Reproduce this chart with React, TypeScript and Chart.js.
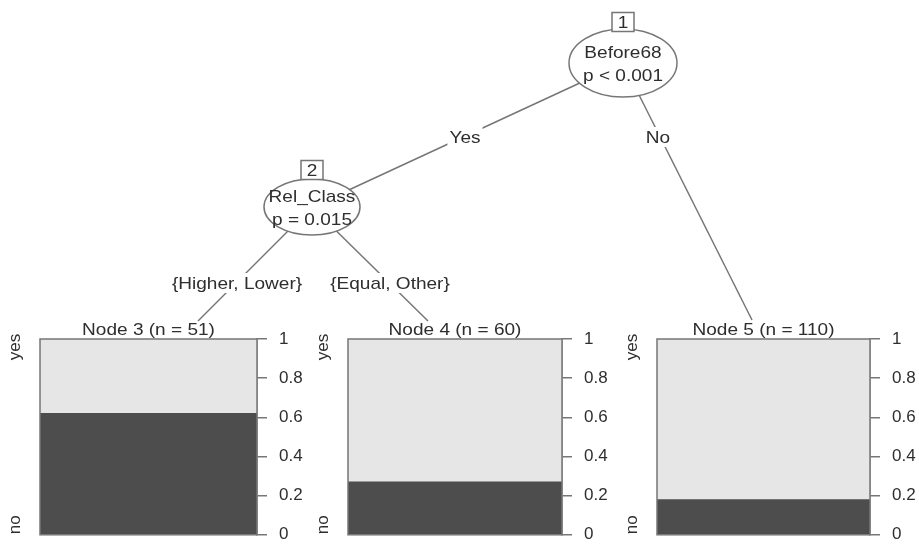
import React, { useEffect, useRef } from "react";
import { Chart, registerables } from "chart.js";

Chart.register(...registerables);

// ---------------- data ----------------
const innerNodeIds = [1, 2];
const innerNodeVars = ["Before68", "Rel_Class"];
const innerNodePValues = ["p < 0.001", "p = 0.015"];
const edgeLabels = ["Yes", "No", "{Higher, Lower}", "{Equal, Other}"];
const terminalNodeIds = [3, 4, 5];
const terminalNodeN = [51, 60, 110];
const shareDark = [0.62, 0.27, 0.18];
const shareLight = [0.38, 0.73, 0.82];
const classLabels = ["no", "yes"]; // bottom, top
const tickValues = [0, 0.2, 0.4, 0.6, 0.8, 1];
const tickLabels = ["0", "0.2", "0.4", "0.6", "0.8", "1"];

// ---------------- layout / style ----------------
const W = 919;
const H = 544;
const FONT = '"Liberation Sans", Arial, sans-serif';
const FS = 17;
const STRETCH = 1.12;
const TEXT = "#2e2e2e";
const LINE = "#767676";
const DARK = "#4d4d4d";
const LIGHT = "#e6e6e6";

const innerLayout = [
  { x: 623, y: 63, rx: 54, ry: 34, boxY: 22 },
  { x: 312, y: 207, rx: 48, ry: 28, boxY: 170 },
];
const edgeFrom = [0, 0, 1, 1];
const edgeTo = [
  { x: 312, y: 207 },
  { x: 752, y: 320 },
  { x: 198, y: 321 },
  { x: 428, y: 321 },
];
const edgeLabelPos = [
  { x: 465, y: 137 },
  { x: 658, y: 137 },
  { x: 237, y: 283 },
  { x: 390, y: 283 },
];
const panelLayout = [
  { left: 40, right: 257 },
  { left: 348, right: 562 },
  { left: 657, right: 870 },
];
const PANEL_TOP = 339;
const PANEL_BOTTOM = 537;
const CANVAS_TOP = 300;
const LEFT_SPACE = 40;
const AXIS_W = 62;
const PAD_B = 20;

function stretchedText(ctx: any, text: string, x: number, y: number) {
  ctx.save();
  ctx.translate(x, y);
  ctx.scale(STRETCH, 1);
  ctx.fillText(text, 0, 0);
  ctx.restore();
}

const treePlugin = {
  id: "treeNodes",
  afterDatasetsDraw(chart: any) {
    const { ctx } = chart;
    const px = (v: number) => chart.scales.x.getPixelForValue(v);
    const py = (v: number) => chart.scales.y.getPixelForValue(v);
    ctx.save();
    ctx.font = `${FS}px ${FONT}`;
    ctx.textAlign = "center";
    ctx.textBaseline = "middle";
    edgeLabels.forEach((lab, i) => {
      const p = edgeLabelPos[i];
      const w = ctx.measureText(lab).width * STRETCH;
      ctx.fillStyle = "#ffffff";
      ctx.fillRect(px(p.x) - w / 2 - 2, py(p.y) - 10, w + 4, 20);
      ctx.fillStyle = TEXT;
      stretchedText(ctx, lab, px(p.x), py(p.y) + 1);
    });
    innerNodeIds.forEach((id, i) => {
      const n = innerLayout[i];
      const cx = px(n.x);
      const cy = py(n.y);
      ctx.beginPath();
      ctx.ellipse(cx, cy, n.rx, n.ry, 0, 0, Math.PI * 2);
      ctx.fillStyle = "#ffffff";
      ctx.fill();
      ctx.lineWidth = 1.5;
      ctx.strokeStyle = LINE;
      ctx.stroke();
      const bw = 22;
      const bh = 19;
      const by = py(n.boxY);
      ctx.fillStyle = "#ffffff";
      ctx.fillRect(cx - bw / 2, by - bh / 2, bw, bh);
      ctx.strokeRect(cx - bw / 2, by - bh / 2, bw, bh);
      ctx.fillStyle = TEXT;
      stretchedText(ctx, String(id), cx, by + 1);
      stretchedText(ctx, innerNodeVars[i], cx, cy - 10);
      stretchedText(ctx, innerNodePValues[i], cx, cy + 13);
    });
    ctx.restore();
  },
};

function TreeCanvas() {
  const ref = useRef<HTMLCanvasElement>(null);
  useEffect(() => {
    const datasets = edgeFrom.map((fi, i) => ({
      data: [
        { x: innerLayout[fi].x, y: innerLayout[fi].y },
        { x: edgeTo[i].x, y: edgeTo[i].y },
      ],
      showLine: true,
      pointRadius: 0,
      borderColor: LINE,
      borderWidth: 1.5,
    }));
    const chart = new Chart(ref.current as HTMLCanvasElement, {
      type: "scatter",
      data: { datasets },
      options: {
        responsive: false,
        animation: false,
        events: [],
        layout: { padding: 0 },
        plugins: { legend: { display: false }, tooltip: { enabled: false } },
        scales: {
          x: { type: "linear", min: 0, max: W, display: false },
          y: { type: "linear", min: 0, max: H, reverse: true, display: false },
        },
      },
      plugins: [treePlugin],
    } as any);
    return () => chart.destroy();
  }, []);
  return (
    <canvas
      ref={ref}
      width={W}
      height={H}
      style={{ position: "absolute", left: 0, top: 0 }}
    />
  );
}

const panelPlugin = {
  id: "panelDecor",
  afterDatasetsDraw(chart: any, _args: any, opts: any) {
    const { ctx, chartArea } = chart;
    const { left, right, top, bottom } = chartArea;
    ctx.save();
    ctx.strokeStyle = LINE;
    ctx.lineWidth = 1.5;
    ctx.strokeRect(left, top, right - left, bottom - top);
    ctx.fillStyle = TEXT;
    ctx.font = `${FS}px ${FONT}`;
    ctx.textAlign = "center";
    ctx.textBaseline = "alphabetic";
    stretchedText(ctx, opts.title, (left + right) / 2, top - 4);
    const lx = left - 20;
    [
      { t: classLabels[1], y: top + 8 },
      { t: classLabels[0], y: bottom - 10 },
    ].forEach((l) => {
      ctx.save();
      ctx.translate(lx, l.y);
      ctx.rotate(-Math.PI / 2);
      ctx.textAlign = "center";
      ctx.textBaseline = "alphabetic";
      ctx.fillText(l.t, 0, 0);
      ctx.restore();
    });
    ctx.restore();
  },
};

function Panel({ index }: { index: number }) {
  const ref = useRef<HTMLCanvasElement>(null);
  const pl = panelLayout[index];
  const width = pl.right - pl.left + LEFT_SPACE + AXIS_W;
  const height = PANEL_BOTTOM - CANVAS_TOP + PAD_B;
  useEffect(() => {
    const chart = new Chart(ref.current as HTMLCanvasElement, {
      type: "bar",
      data: {
        labels: [`Node ${terminalNodeIds[index]}`],
        datasets: [
          {
            label: classLabels[0],
            data: [shareDark[index]],
            backgroundColor: DARK,
            borderWidth: 0,
          },
          {
            label: classLabels[1],
            data: [shareLight[index]],
            backgroundColor: LIGHT,
            borderWidth: 0,
          },
        ],
      },
      options: {
        responsive: false,
        animation: false,
        events: [],
        layout: {
          padding: {
            left: LEFT_SPACE,
            top: PANEL_TOP - CANVAS_TOP,
            bottom: PAD_B,
            right: 0,
          },
        },
        datasets: { bar: { categoryPercentage: 1, barPercentage: 1 } },
        plugins: {
          legend: { display: false },
          tooltip: { enabled: false },
          panelDecor: {
            title: `Node ${terminalNodeIds[index]} (n = ${terminalNodeN[index]})`,
          },
        },
        scales: {
          x: { display: false, stacked: true },
          y: {
            position: "right",
            stacked: true,
            min: 0,
            max: 1,
            afterFit: (s: any) => {
              s.width = AXIS_W;
            },
            afterBuildTicks: (s: any) => {
              s.ticks = tickValues.map((v) => ({ value: v }));
            },
            ticks: {
              padding: 12,
              color: TEXT,
              crossAlign: "near",
              font: { family: FONT, size: FS },
              callback: (v: any) => {
                const k = tickValues.indexOf(Number(v));
                return k >= 0 ? tickLabels[k] : "";
              },
            },
            grid: {
              drawOnChartArea: false,
              drawTicks: true,
              tickLength: 10,
              color: LINE,
              lineWidth: 1.5,
            },
            border: { display: true, color: LINE, width: 1.5 },
          },
        },
      },
      plugins: [panelPlugin],
    } as any);
    return () => chart.destroy();
  }, [index]);
  return (
    <canvas
      ref={ref}
      width={width}
      height={height}
      style={{
        position: "absolute",
        left: pl.left - LEFT_SPACE,
        top: CANVAS_TOP,
      }}
    />
  );
}

export default function App() {
  return (
    <div
      style={{
        position: "fixed",
        left: 0,
        top: 0,
        width: W,
        height: H,
        overflow: "hidden",
        background: "#ffffff",
      }}
    >
      <TreeCanvas />
      {terminalNodeIds.map((_, i) => (
        <Panel key={i} index={i} />
      ))}
    </div>
  );
}
